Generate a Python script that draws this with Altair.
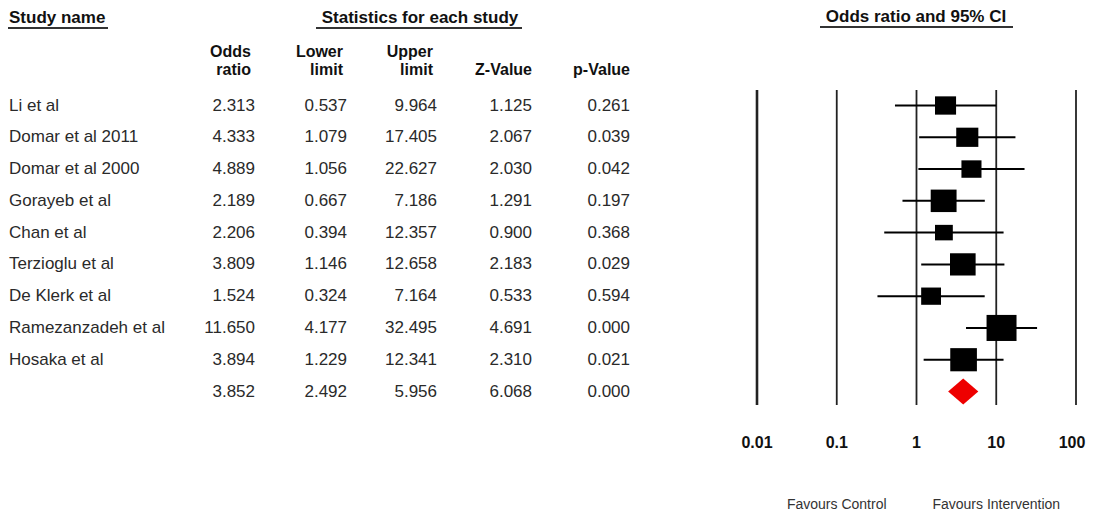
import altair as alt
import pandas as pd

# ---------------- data ----------------
studies = ["Li et al", "Domar et al 2011", "Domar et al 2000", "Gorayeb et al",
           "Chan et al", "Terzioglu et al", "De Klerk et al", "Ramezanzadeh et al",
           "Hosaka et al"]
odds = [2.313, 4.333, 4.889, 2.189, 2.206, 3.809, 1.524, 11.650, 3.894]
lower = [0.537, 1.079, 1.056, 0.667, 0.394, 1.146, 0.324, 4.177, 1.229]
upper = [9.964, 17.405, 22.627, 7.186, 12.357, 12.658, 7.164, 32.495, 12.341]
zval = [1.125, 2.067, 2.030, 1.291, 0.900, 2.183, 0.533, 4.691, 2.310]
pval = [0.261, 0.039, 0.042, 0.197, 0.368, 0.029, 0.594, 0.000, 0.021]
rel_weight = [8.90, 9.82, 8.08, 13.43, 6.39, 13.16, 7.92, 18.04, 14.27]

summary_or = 3.852
summary_lower = 2.492
summary_upper = 5.956
summary_z = 6.068
summary_p = 0.000

tick_values = [0.01, 0.1, 1, 10, 100]
tick_labels = ["0.01", "0.1", "1", "10", "100"]

col_head_top = ["Odds", "Lower", "Upper", "", ""]
col_head_bot = ["ratio", "limit", "limit", "Z-Value", "p-Value"]

favours_labels = ["Favours Control", "Favours Intervention"]
favours_at = [0.1, 10]

# ---------------- tables ----------------
n = len(studies)
table = pd.DataFrame({
    "row": list(range(n + 1)),
    "study": studies + [""],
    "odds": odds + [summary_or],
    "lower": lower + [summary_lower],
    "upper": upper + [summary_upper],
    "z": zval + [summary_z],
    "p": pval + [summary_p],
})
studies_df = pd.DataFrame({
    "row": list(range(n)), "odds": odds, "lower": lower, "upper": upper,
    "weight": rel_weight,
})
half = 0.41
diamond = pd.DataFrame({
    "x": [summary_lower, summary_or, summary_upper],
    "y": [n, n - half, n],
    "y2": [n, n + half, n],
})
ticks = pd.DataFrame({"v": tick_values, "label": tick_labels,
                      "w": [2.6, 1.8, 1.8, 1.8, 1.8],
                      "shift": [0, 0, 0, 0, -4]})
favours = pd.DataFrame({"v": favours_at, "label": favours_labels})

FONT = "Liberation Sans"
TXT = "#2a2a2a"

yscale = alt.Scale(domain=[0, n], range=[97.5, 383.5])
xscale = alt.Scale(type="log", domain=[0.01, 100], range=[749, 1068])
Y = alt.Y("row:Q", scale=yscale, axis=None)

layers = []

# study names
layers.append(alt.Chart(table).mark_text(
    align="left", baseline="middle", font=FONT, fontSize=17, color=TXT
).encode(x=alt.value(1), y=Y, text="study:N"))

col_x = [247, 339, 429, 524, 622]
cols = ["odds", "lower", "upper", "z", "p"]
for c, xp in zip(cols, col_x):
    layers.append(alt.Chart(table).mark_text(
        align="right", baseline="middle", font=FONT, fontSize=17, color=TXT
    ).encode(x=alt.value(xp), y=Y, text=alt.Text(f"{c}:Q", format=".3f")))

# column headers
head_df = pd.DataFrame({"top": col_head_top, "bot": col_head_bot})
for i, xp in enumerate(col_x):
    hx = xp - 4
    if col_head_top[i]:
        layers.append(alt.Chart(head_df.iloc[[i]]).mark_text(
            align="right", baseline="middle", font=FONT, fontSize=16,
            fontWeight="bold", color="#111"
        ).encode(x=alt.value(hx), y=alt.value(44), text="top:N"))
    layers.append(alt.Chart(head_df.iloc[[i]]).mark_text(
        align="right", baseline="middle", font=FONT, fontSize=16,
        fontWeight="bold", color="#111"
    ).encode(x=alt.value(hx if col_head_top[i] else xp), y=alt.value(62), text="bot:N"))

# section titles
titles = pd.DataFrame({"t": ["Study name", "Statistics for each study",
                             "Odds ratio and 95% CI"]})
layers.append(alt.Chart(titles.iloc[[0]]).mark_text(
    align="left", baseline="middle", font=FONT, fontSize=17, fontWeight="bold",
    color="#111").encode(x=alt.value(1), y=alt.value(10), text="t:N"))
layers.append(alt.Chart(titles.iloc[[1]]).mark_text(
    align="center", baseline="middle", font=FONT, fontSize=17, fontWeight="bold",
    color="#111").encode(x=alt.value(412), y=alt.value(10), text="t:N"))
layers.append(alt.Chart(titles.iloc[[2]]).mark_text(
    align="center", baseline="middle", font=FONT, fontSize=17, fontWeight="bold",
    color="#111").encode(x=alt.value(908), y=alt.value(9), text="t:N"))

one = pd.DataFrame({"a": [0]})
for x1, x2, yy in [(0, 100, 20), (308, 514, 20), (812, 1005, 19)]:
    layers.append(alt.Chart(one).mark_rule(color="#333", strokeWidth=2).encode(
        x=alt.value(x1), x2=alt.value(x2), y=alt.value(yy)))

# vertical reference lines
layers.append(alt.Chart(ticks).mark_rule(color="#222").encode(
    x=alt.X("v:Q", scale=xscale, axis=None),
    y=alt.value(82), y2=alt.value(397),
    strokeWidth=alt.StrokeWidth("w:Q", scale=None, legend=None)))

# tick labels (the last one nudged so it stays inside the page)
layers.append(alt.Chart(ticks).transform_filter("datum.shift == 0").mark_text(
    align="center", baseline="middle", font=FONT, fontSize=16, fontWeight="bold",
    color="#111").encode(x=alt.X("v:Q", scale=xscale, axis=None),
                          y=alt.value(435), text="label:N"))
layers.append(alt.Chart(ticks).transform_filter("datum.shift != 0").mark_text(
    align="center", baseline="middle", font=FONT, fontSize=16, fontWeight="bold",
    color="#111", dx=-4).encode(x=alt.X("v:Q", scale=xscale, axis=None),
                                 y=alt.value(435), text="label:N"))

# favours labels
layers.append(alt.Chart(favours).mark_text(
    align="center", baseline="middle", font=FONT, fontSize=14, color="#333"
).encode(x=alt.X("v:Q", scale=xscale, axis=None), y=alt.value(497), text="label:N"))

# CI lines
layers.append(alt.Chart(studies_df).mark_rule(color="black", strokeWidth=2).encode(
    x=alt.X("lower:Q", scale=xscale, axis=None), x2="upper:Q", y=Y))

# weighted boxes
box = "M-1.07,-0.93L1.07,-0.93L1.07,0.93L-1.07,0.93Z"
layers.append(alt.Chart(studies_df).mark_point(
    shape=box, filled=True, opacity=1, color="black", strokeWidth=0
).encode(x=alt.X("odds:Q", scale=xscale, axis=None), y=Y,
         size=alt.Size("weight:Q", scale=alt.Scale(domain=[0, 20], range=[0, 870]),
                       legend=None)))

# summary diamond
layers.append(alt.Chart(diamond).mark_area(color="#ee0000", orient="vertical").encode(
    x=alt.X("x:Q", scale=xscale, axis=None),
    y=alt.Y("y:Q", scale=yscale, axis=None), y2="y2:Q"))

chart = alt.layer(*layers).properties(
    width=1078, height=503, autosize="none", padding=0,
    view=alt.ViewBackground(strokeOpacity=0, strokeWidth=0)
).configure_view(strokeWidth=0, strokeOpacity=0).configure(background="white")

chart.save("out.html", embed_options={"renderer": "svg", "actions": False})
